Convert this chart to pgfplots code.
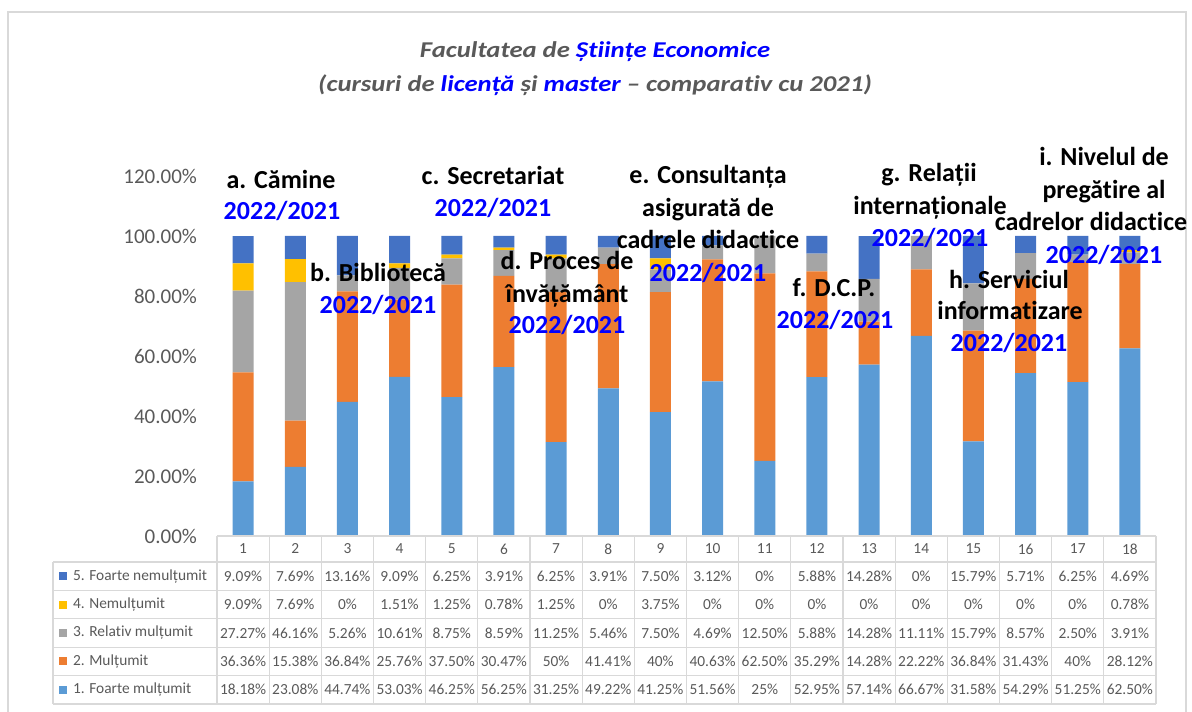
\documentclass[border=0pt]{standalone}
\usepackage{graphicx}
\usepackage{pgfplots}
\pgfplotsset{compat=1.18}
\usepackage{pgfplotstable}
\usepackage{fontspec}
\setmainfont{Carlito}[Ligatures=CommonOff]
\definecolor{c1}{HTML}{5B9BD5}
\definecolor{c2}{HTML}{ED7D31}
\definecolor{c3}{HTML}{A5A5A5}
\definecolor{c4}{HTML}{FFC000}
\definecolor{c5}{HTML}{4472C4}
\definecolor{txt}{HTML}{595959}
\definecolor{gridc}{HTML}{D9D9D9}
\definecolor{bl}{HTML}{0000FF}

\pgfplotstableread{
x f1 f2 f3 f4 f5
1 18.18 36.36 27.27 9.09 9.09
2 23.08 15.38 46.16 7.69 7.69
3 44.74 36.84 5.26 0 13.16
4 53.03 25.76 10.61 1.51 9.09
5 46.25 37.50 8.75 1.25 6.25
6 56.25 30.47 8.59 0.78 3.91
7 31.25 50 11.25 1.25 6.25
8 49.22 41.41 5.46 0 3.91
9 41.25 40 7.50 3.75 7.50
10 51.56 40.63 4.69 0 3.12
11 25 62.50 12.50 0 0
12 52.95 35.29 5.88 0 5.88
13 57.14 14.28 14.28 0 14.28
14 66.67 22.22 11.11 0 0
15 31.58 36.84 15.79 0 15.79
16 54.29 31.43 8.57 0 5.71
17 51.25 40 2.50 0 6.25
18 62.50 28.12 3.91 0.78 4.69
}\data

\newcommand{\tabfont}{\fontsize{7.7}{9}\selectfont}
\newcommand{\annfont}{\bfseries\fontsize{13}{16}\selectfont}
\newcommand{\ann}[4]{\node[font=\annfont, text=#4, inner sep=0pt, text height=9.5pt, text depth=2.5pt, anchor=center] at ({#1*0.5pt},{(711-#2)*0.5pt}) {#3};}

\begin{document}
\begin{tikzpicture}
\useasboundingbox (0,0) rectangle (596pt,355.5pt);
% outer frame
\draw[gridc, line width=0.8pt] (4pt,-2pt) -- (4pt,349.5pt) -- (593pt,349.5pt) -- (593pt,-2pt);

\begin{axis}[
  at={(108.5pt,87.5pt)}, anchor=south west,
  scale only axis, width=469.5pt, height=180pt,
  ybar stacked, bar width=10.5pt,
  xmin=0.5, xmax=18.5, ymin=0, ymax=120,
  axis line style={draw=none},
  xtick=\empty,
  ytick={0,20,40,60,80,100,120},
  yticklabels={0.00\%,20.00\%,40.00\%,60.00\%,80.00\%,100.00\%,120.00\%},
  major tick length=0pt,
  yticklabel style={font=\fontsize{10.5}{12}\selectfont, text=txt, xshift=-6.5pt},
  clip=false,
]
\addplot[fill=c1, draw=none] table[x=x,y=f1]{\data};
\addplot[fill=c2, draw=none] table[x=x,y=f2]{\data};
\addplot[fill=c3, draw=none] table[x=x,y=f3]{\data};
\addplot[fill=c4, draw=none] table[x=x,y=f4]{\data};
\addplot[fill=c5, draw=none] table[x=x,y=f5]{\data};
\end{axis}

% data table grid
\begin{scope}[gridc, line width=0.6pt]
\draw (108.5pt,87.5pt) -- (578pt,87.5pt);
\foreach \yy in {74.5,60.3,46.1,31.9,17.7,3.5} \draw (26.5pt,\yy pt) -- (578pt,\yy pt);
\foreach \k in {0,...,18} \draw ({108.5pt+\k*26.0833pt},87.5pt) -- ({108.5pt+\k*26.0833pt},3.5pt);
\draw (26.5pt,74.5pt) -- (26.5pt,3.5pt);
\end{scope}

% header numbers
\foreach \r in {1,...,18} \node[font=\tabfont, text=txt] at ({108.5pt+(\r-0.5)*26.0833pt},81pt) {\r};

% values
\foreach \col/\yy in {f5/67.4, f4/53.2, f3/39, f2/24.8, f1/10.6} {
  \foreach \r in {0,...,17} {
    \pgfplotstablegetelem{\r}{\col}\of\data
    \node[font=\tabfont, text=txt, inner sep=0pt] at ({108.5pt+(\r+0.5)*26.0833pt},{\yy pt}) {\pgfplotsretval\%};
  }
}

% legend keys
\foreach \lab/\cc/\yy in {5. Foarte nemulțumit/c5/67.4, 4. Nemulțumit/c4/53.2, 3. Relativ mulțumit/c3/39, 2. Mulțumit/c2/24.8, 1. Foarte mulțumit/c1/10.6} {
  \fill[\cc] ({29.5pt},{\yy pt-2pt}) rectangle ++(4pt,4pt);
  \node[font=\tabfont, text=txt, anchor=west, inner sep=0pt] at ({36.3pt},{\yy pt}) {\lab};
}

% title
\node[font=\bfseries\itshape\fontsize{11.3}{13}\selectfont, text=txt] at (297.5pt,329.5pt)
  {\scalebox{1.18}[1]{Facultatea de \textcolor{bl}{Științe Economice}}};
\node[font=\bfseries\itshape\fontsize{11.3}{13}\selectfont, text=txt] at (297.5pt,313pt)
  {\scalebox{1.18}[1]{(cursuri de \textcolor{bl}{licență} și \textcolor{bl}{master} – comparativ cu 2021)}};

% annotations
\ann{281}{182}{a. Cămine}{black}
\ann{282}{213}{2022/2021}{bl}
\ann{378}{275}{b. Bibliotecă}{black}
\ann{378}{307}{2022/2021}{bl}
\ann{493}{178}{c. Secretariat}{black}
\ann{493}{210}{2022/2021}{bl}
\ann{567}{263}{d. Proces de}{black}
\ann{567}{296}{învățământ}{black}
\ann{567}{327}{2022/2021}{bl}
\ann{708}{177}{e. Consultanța}{black}
\ann{708}{210}{asigurată de}{black}
\ann{708}{242}{cadrele didactice}{black}
\ann{708}{275}{2022/2021}{bl}
\ann{834}{290}{f. D.C.P.}{black}
\ann{835}{322}{2022/2021}{bl}
\ann{929}{175}{g. Relații}{black}
\ann{930}{208}{internaționale}{black}
\ann{930}{240}{2022/2021}{bl}
\ann{1009}{282}{h. Serviciul}{black}
\ann{1010}{313}{informatizare}{black}
\ann{1009}{345}{2022/2021}{bl}
\ann{1104}{159}{i. Nivelul de}{black}
\ann{1104}{192}{pregătire al}{black}
\ann{1091}{224}{cadrelor didactice}{black}
\ann{1104}{257}{2022/2021}{bl}
\end{tikzpicture}
\end{document}
